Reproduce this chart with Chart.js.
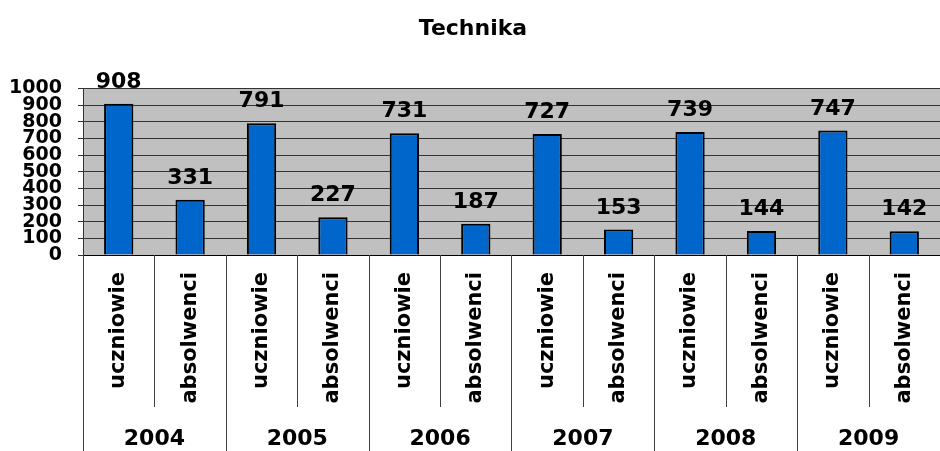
<!DOCTYPE html>
<html lang="pl">
<head>
    <meta charset="UTF-8">
    <title>Technika</title>
    <script src="https://cdn.jsdelivr.net/npm/chart.js"></script>
    <style>
        html, body { margin: 0; padding: 0; background: #fff; }
        #wrap { width: 940px; height: 451px; }
    </style>
</head>
<body>
    <div id="wrap"><canvas id="barChart"></canvas></div>

    <script>
        // dane z wykresu
        var lata = ['2004', '2005', '2006', '2007', '2008', '2009'];
        var uczniowie = [908, 791, 731, 727, 739, 747];
        var absolwenci = [331, 227, 187, 153, 144, 142];
        var kategorie = ['uczniowie', 'absolwenci'];

        // etykiety i wartosci naprzemiennie: uczniowie, absolwenci dla kazdego roku
        var etykiety = [];
        var wartosci = [];
        for (var i = 0; i < lata.length; i++) {
            etykiety.push(kategorie[0], kategorie[1]);
            wartosci.push(uczniowie[i], absolwenci[i]);
        }

        var FONT = "'DejaVu Sans', Verdana, sans-serif";

        // szare tlo obszaru wykresu
        var tloPlugin = {
            id: 'tlo',
            beforeDraw: function (chart) {
                var a = chart.chartArea;
                var ctx = chart.ctx;
                ctx.save();
                ctx.fillStyle = '#C0C0C0';
                ctx.fillRect(a.left, a.top, a.right - a.left, a.bottom - a.top);
                ctx.restore();
            }
        };

        // wartosci nad slupkami, linie podzialu i lata pod osia
        var opisPlugin = {
            id: 'opis',
            afterDraw: function (chart) {
                var ctx = chart.ctx;
                var x = chart.scales.x;
                var meta = chart.getDatasetMeta(0);
                var dol = chart.height;
                ctx.save();

                ctx.font = 'bold 22px ' + FONT;
                ctx.fillStyle = '#000';
                ctx.textAlign = 'center';
                ctx.textBaseline = 'alphabetic';
                meta.data.forEach(function (bar, idx) {
                    ctx.fillText(String(wartosci[idx]), bar.x, bar.y - 16);
                });

                var szer = x.getPixelForValue(1) - x.getPixelForValue(0);
                ctx.strokeStyle = '#404040';
                ctx.lineWidth = 1;
                for (var k = 0; k <= etykiety.length; k++) {
                    var px = Math.round(x.getPixelForValue(k) - szer / 2) + 0.5;
                    var koniec = (k % 2 === 0) ? dol : x.bottom + 2;
                    ctx.beginPath();
                    ctx.moveTo(px, x.top);
                    ctx.lineTo(px, koniec);
                    ctx.stroke();
                }

                ctx.font = 'bold 22px ' + FONT;
                ctx.textBaseline = 'middle';
                for (var r = 0; r < lata.length; r++) {
                    var cx = (x.getPixelForValue(2 * r) + x.getPixelForValue(2 * r + 1)) / 2;
                    ctx.fillText(lata[r], cx, 439);
                }
                ctx.restore();
            }
        };

        var ctxBar = document.getElementById('barChart').getContext('2d');
        var barChart = new Chart(ctxBar, {
            type: 'bar',
            data: {
                labels: etykiety,
                datasets: [{
                    label: 'Technika',
                    data: wartosci,
                    backgroundColor: '#0066CC',
                    borderColor: '#000',
                    borderWidth: 2,
                    barPercentage: 0.41,
                    categoryPercentage: 1
                }]
            },
            options: {
                responsive: true,
                maintainAspectRatio: false,
                animation: false,
                layout: {
                    padding: { left: 6, right: 0, top: 0, bottom: 46 }
                },
                plugins: {
                    legend: { display: false },
                    tooltip: { enabled: false },
                    title: {
                        display: true,
                        text: 'Technika',
                        color: '#000',
                        font: { family: FONT, size: 22, weight: 'bold' },
                        padding: { top: 16, bottom: 46 }
                    }
                },
                scales: {
                    x: {
                        offset: true,
                        grid: { display: true, drawOnChartArea: false, drawTicks: false },
                        border: { display: true, color: '#000', width: 1 },
                        ticks: {
                            color: '#000',
                            font: { family: FONT, size: 21, weight: 'bold' },
                            minRotation: 90,
                            maxRotation: 90,
                            autoSkip: false,
                            padding: 17
                        },
                        afterFit: function (scale) {
                            scale.height = 150;
                            scale.paddingLeft = 0;
                            scale.paddingRight = 0;
                        }
                    },
                    y: {
                        min: 0,
                        max: 1000,
                        ticks: {
                            stepSize: 100,
                            autoSkip: false,
                            color: '#000',
                            padding: 16,
                            font: { family: FONT, size: 19, weight: 'bold', lineHeight: 1 },
                            callback: function (v) { return String(v); }
                        },
                        grid: { color: '#333', lineWidth: 1, drawTicks: true, tickLength: 5, tickColor: '#333' },
                        border: { display: true, color: '#333', width: 1 },
                        afterFit: function (scale) { scale.width = 77; }
                    }
                }
            },
            plugins: [tloPlugin, opisPlugin]
        });
    </script>
</body>
</html>
